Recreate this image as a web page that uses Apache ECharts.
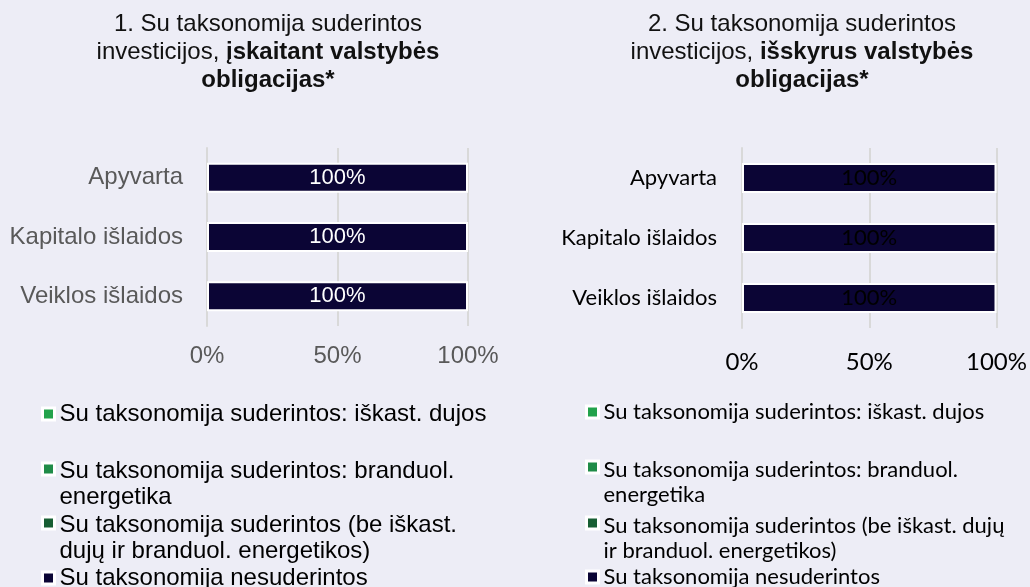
<!DOCTYPE html>
<html>
<head>
<meta charset="utf-8">
<script src="https://cdn.jsdelivr.net/npm/echarts@6/dist/echarts.min.js"></script>
<style>
  html, body { margin: 0; padding: 0; background: #EDEDF6; }
  #main { width: 1030px; height: 587px; }
</style>
</head>
<body>
<div id="main"></div>
<script>
  // kategorijos
  var categories = ['Apyvarta', 'Kapitalo išlaidos', 'Veiklos išlaidos'];

  var seriesNames = [
    'Su taksonomija suderintos: iškast. dujos',
    'Su taksonomija suderintos: branduol. energetika',
    'Su taksonomija suderintos (be iškast. dujų ir branduol. energetikos)',
    'Su taksonomija nesuderintos'
  ];
  var seriesColors = ['#22A24B', '#1F8B47', '#175E33', '#0B0535'];

  // 1. įskaitant valstybės obligacijas (%)
  var gasIncl = [0, 0, 0];
  var nuclearIncl = [0, 0, 0];
  var otherAlignedIncl = [0, 0, 0];
  var notAlignedIncl = [100, 100, 100];

  // 2. išskyrus valstybės obligacijas (%)
  var gasExcl = [0, 0, 0];
  var nuclearExcl = [0, 0, 0];
  var otherAlignedExcl = [0, 0, 0];
  var notAlignedExcl = [100, 100, 100];

  var xMin = 0, xMax = 100, xStep = 50;

  // legendos eilutės (kaip suskaidyta originale)
  var legendLeft = [
    ['Su taksonomija suderintos: iškast. dujos'],
    ['Su taksonomija suderintos: branduol.', 'energetika'],
    ['Su taksonomija suderintos (be iškast.', 'dujų ir branduol. energetikos)'],
    ['Su taksonomija nesuderintos']
  ];
  var legendRight = [
    ['Su taksonomija suderintos: iškast. dujos'],
    ['Su taksonomija suderintos: branduol.', 'energetika'],
    ['Su taksonomija suderintos (be iškast. dujų', 'ir branduol. energetikos)'],
    ['Su taksonomija nesuderintos']
  ];

  var ARIAL = 'Liberation Sans, Arial, sans-serif';
  var CALIBRI = 'Lato, Carlito, sans-serif';

  var myChart = echarts.init(document.getElementById('main'));

  function makeLegends(lines, left, centers, font, size) {
    var out = [];
    lines.forEach(function (parts, idx) {
      var twoLines = parts.length > 1;
      var txt = twoLines ? '{f|' + parts[0] + '}\n{t|' + parts[1] + '}' : '{t|' + parts[0] + '}';
      out.push({
        data: [seriesNames[idx]],
        orient: 'vertical',
        left: left,
        top: centers[idx] - (twoLines ? 42 : 14),
        padding: 0,
        itemWidth: 12,
        itemHeight: 12,
        icon: 'rect',
        itemStyle: { borderColor: '#FFFFFF', borderWidth: 3 },
        selectedMode: false,
        formatter: function () { return txt; },
        textStyle: {
          fontFamily: font,
          fontSize: size,
          lineHeight: 28,
          color: '#000000',
          rich: {
            // pirma eilutė lygiuojama su žymekliu
            f: { fontFamily: font, fontSize: size, lineHeight: 56, verticalAlign: 'bottom', color: '#000000' },
            t: { fontFamily: font, fontSize: size, lineHeight: 28, color: '#000000' }
          }
        }
      });
    });
    return out;
  }

  function makeSeries(values, axisIdx, stack, labelColor, labelFont, labelSize) {
    return values.map(function (vals, i) {
      var last = i === values.length - 1;
      return {
        name: seriesNames[i],
        type: 'bar',
        stack: stack,
        xAxisIndex: axisIdx,
        yAxisIndex: axisIdx,
        barWidth: 30,
        data: vals,
        itemStyle: {
          color: seriesColors[i],
          borderColor: last ? '#FFFFFF' : 'transparent',
          borderWidth: last ? 2 : 0
        },
        label: {
          show: last,
          position: 'inside',
          formatter: '{c}%',
          color: labelColor,
          fontFamily: labelFont,
          fontSize: labelSize
        }
      };
    });
  }

  function xAxisFor(idx, font, color, margin) {
    return {
      gridIndex: idx,
      type: 'value',
      min: xMin,
      max: xMax,
      interval: xStep,
      axisLine: { show: false },
      axisTick: { show: false },
      splitLine: { lineStyle: { color: '#D9D9D9', width: 2 } },
      axisLabel: {
        formatter: '{value}%',
        fontFamily: font,
        fontSize: 24,
        color: color,
        margin: margin
      }
    };
  }

  function yAxisFor(idx, font, size, color, margin) {
    return {
      gridIndex: idx,
      type: 'category',
      inverse: true,
      data: categories,
      axisLine: { lineStyle: { color: '#D9D9D9', width: 2 } },
      axisTick: { length: 6, lineStyle: { color: '#D9D9D9', width: 2 } },
      axisLabel: {
        fontFamily: font,
        fontSize: size,
        color: color,
        margin: margin
      }
    };
  }

  var option = {
    backgroundColor: '#EDEDF6',
    animation: false,
    title: [
      {
        text: '1. Su taksonomija suderintos\ninvesticijos, {b|įskaitant valstybės}\n{b|obligacijas*}',
        left: 268,
        top: 10,
        padding: 0,
        textAlign: 'center',
        textStyle: {
          fontFamily: ARIAL, fontSize: 24, lineHeight: 28, fontWeight: 'normal', color: '#111111',
          rich: { b: { fontFamily: ARIAL, fontSize: 24, lineHeight: 28, fontWeight: 'bold', color: '#111111' } }
        }
      },
      {
        text: '2. Su taksonomija suderintos\ninvesticijos, {b|išskyrus valstybės}\n{b|obligacijas*}',
        left: 802,
        top: 10,
        padding: 0,
        textAlign: 'center',
        textStyle: {
          fontFamily: ARIAL, fontSize: 24, lineHeight: 28, fontWeight: 'normal', color: '#111111',
          rich: { b: { fontFamily: ARIAL, fontSize: 24, lineHeight: 28, fontWeight: 'bold', color: '#111111' } }
        }
      }
    ],
    legend: makeLegends(legendLeft, 41, [414, 469, 523, 578], ARIAL, 24)
      .concat(makeLegends(legendRight, 585, [412, 467, 523, 577], CALIBRI, 22)),
    grid: [
      { left: 207, width: 261, top: 148, height: 178 },
      { left: 742, width: 261, top: 148, height: 180 }
    ],
    xAxis: [
      xAxisFor(0, ARIAL, '#595959', 18),
      xAxisFor(1, CALIBRI, '#000000', 22)
    ],
    yAxis: [
      yAxisFor(0, ARIAL, 24, '#595959', 24),
      yAxisFor(1, CALIBRI, 22, '#000000', 25)
    ],
    series: makeSeries([gasIncl, nuclearIncl, otherAlignedIncl, notAlignedIncl], 0, 'incl', '#FFFFFF', ARIAL, 22)
      .concat(makeSeries([gasExcl, nuclearExcl, otherAlignedExcl, notAlignedExcl], 1, 'excl', '#000000', CALIBRI, 22))
  };

  option && myChart.setOption(option);
</script>
</body>
</html>
